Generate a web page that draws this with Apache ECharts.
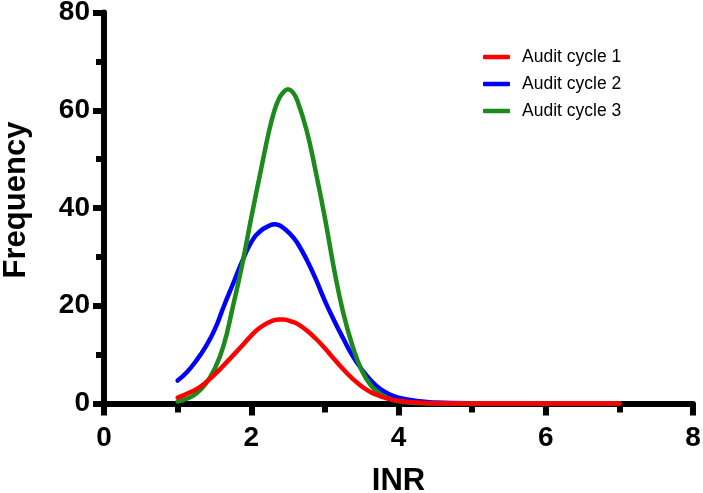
<!DOCTYPE html>
<html>
<head>
<meta charset="utf-8">
<script src="https://cdn.jsdelivr.net/npm/echarts@6/dist/echarts.min.js"></script>
<style>
html,body{margin:0;padding:0;background:#fff;}
#chart{width:703px;height:493px;}
</style>
</head>
<body>
<div id="chart"></div>
<script>
// INR values (x) at which the curves were read
var inr = [1, 1.125, 1.25, 1.375, 1.5, 1.625, 1.75, 1.875, 2, 2.125, 2.25, 2.3125, 2.375, 2.4375, 2.5, 2.5625,
           2.625, 2.75, 2.875, 3, 3.125, 3.25, 3.375, 3.5, 3.625, 3.75, 3.875, 4, 4.25, 4.5, 5, 5.5, 6, 6.5, 7];
// Frequency values
var cycle1 = [1.2, 2.0, 2.9, 4.2, 5.9, 7.8, 9.8, 11.8, 13.9, 15.6, 16.7, 17.05, 17.2, 17.2, 17.0, 16.7,
              16.3, 15.0, 13.3, 11.3, 9.1, 7.0, 5.1, 3.5, 2.3, 1.5, 0.9, 0.55, 0.2, 0.05, 0, 0, 0, 0, 0];
var cycle2 = [4.7, 6.4, 8.7, 11.5, 15.0, 19.8, 24.4, 29.0, 33.0, 35.3, 36.4, 36.7, 36.5, 35.9, 35.1, 34.1,
              32.9, 29.5, 25.5, 21.0, 17.0, 13.3, 9.8, 7.0, 4.7, 3.0, 1.9, 1.2, 0.5, 0.2, 0.03, 0, 0, 0, 0];
var cycle3 = [0.4, 1.0, 2.0, 3.9, 7.0, 11.9, 19.8, 28.3, 38.0, 47.3, 56.3, 59.8, 62.3, 63.7, 64.3, 63.7,
              62.0, 56.0, 47.5, 38.0, 27.5, 18.5, 11.8, 6.8, 3.7, 2.0, 1.0, 0.45, 0.1, 0.02, 0, 0, 0, 0, 0];
var seriesNames = ['Audit cycle 1', 'Audit cycle 2', 'Audit cycle 3'];
var xTicks = [0, 2, 4, 6, 8];
var yTicks = [0, 20, 40, 60, 80];

function pairs(ys) { return inr.map(function (x, i) { return [x, ys[i]]; }); }

var FONT = 'Arial, "Liberation Sans", Helvetica, sans-serif';
var chart = echarts.init(document.getElementById('chart'), null, {renderer: 'canvas'});

function mkSeries(name, data, color, z) {
  return {
    name: name, type: 'line', data: pairs(data), smooth: 0.5,
    showSymbol: false, symbol: 'none', clip: false, z: z,
    lineStyle: {color: color, width: 4.5, cap: 'round'},
    itemStyle: {color: color},
    animation: false
  };
}

chart.setOption({
  animation: false,
  grid: {left: 104, right: 10, top: 12.5, bottom: 89.5, containLabel: false, outerBoundsMode: 'none'},
  legend: {
    orient: 'vertical', left: 483, top: 48, padding: 0,
    data: seriesNames,
    icon: 'roundRect', itemWidth: 27, itemHeight: 4.5,
    itemGap: 9,
    textStyle: {fontFamily: FONT, fontSize: 17.5, color: '#000', lineHeight: 17.5, padding: [0, 0, 0, 7]}
  },
  xAxis: {
    type: 'value', min: xTicks[0], max: xTicks[xTicks.length - 1], interval: 2,
    name: 'INR', nameLocation: 'middle', nameGap: 62,
    nameTextStyle: {fontFamily: FONT, fontSize: 31, fontWeight: 'bold', color: '#000'},
    axisLine: {show: true, onZero: false, lineStyle: {color: '#000', width: 6}},
    axisTick: {show: true, inside: false, length: 12, lineStyle: {color: '#000', width: 6}},
    minorTick: {show: true, splitNumber: 2, length: 9, lineStyle: {color: '#000', width: 6}},
    axisLabel: {fontFamily: FONT, fontSize: 28, fontWeight: 'bold', color: '#000', margin: 21},
    splitLine: {show: false}
  },
  yAxis: {
    type: 'value', min: yTicks[0], max: yTicks[yTicks.length - 1], interval: 20,
    name: 'Frequency', nameLocation: 'middle', nameGap: 72, nameRotate: 90,
    nameTextStyle: {fontFamily: FONT, fontSize: 31, fontWeight: 'bold', color: '#000', padding: [0, 0, 0, 16]},
    axisLine: {show: true, onZero: false, lineStyle: {color: '#000', width: 6}},
    axisTick: {show: true, inside: false, length: 11, lineStyle: {color: '#000', width: 6}},
    minorTick: {show: true, splitNumber: 2, length: 8, lineStyle: {color: '#000', width: 6}},
    axisLabel: {fontFamily: FONT, fontSize: 28, fontWeight: 'bold', color: '#000', margin: 14},
    splitLine: {show: false}
  },
  series: [
    mkSeries(seriesNames[1], cycle2, '#0000ff', 2),
    mkSeries(seriesNames[2], cycle3, '#1c8a1c', 3),
    mkSeries(seriesNames[0], cycle1, '#ff0000', 4)
  ]
});
</script>
</body>
</html>
